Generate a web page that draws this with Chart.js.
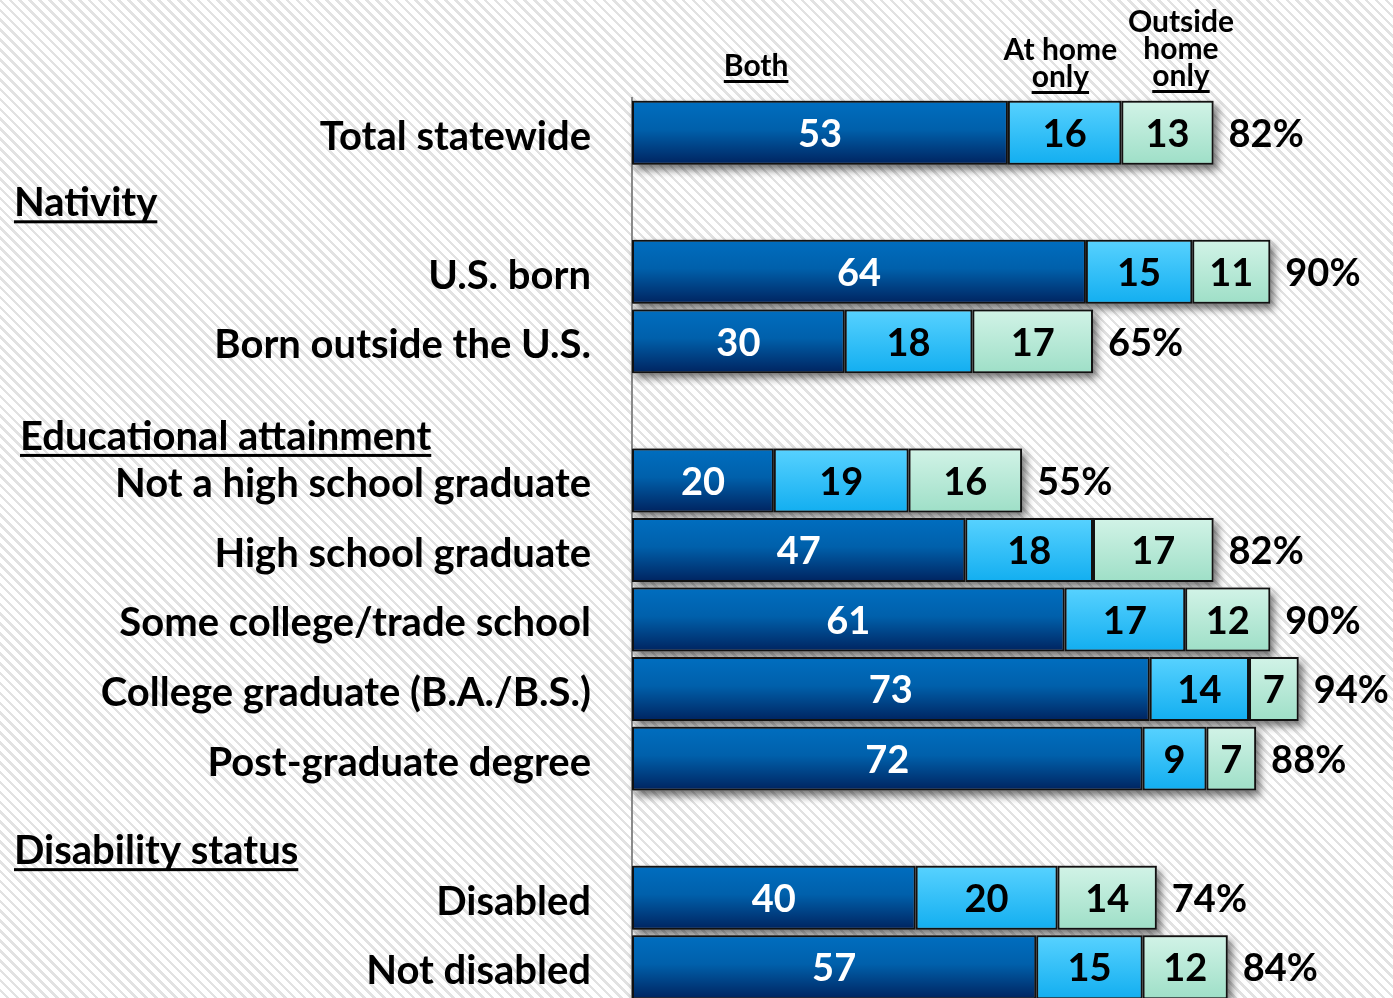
<!DOCTYPE html>
<html>
<head>
<meta charset="utf-8">
<script src="https://cdn.jsdelivr.net/npm/chart.js@4.4.0/dist/chart.umd.min.js"></script>
<style>
  html, body { margin: 0; padding: 0; overflow: hidden; }
  body {
    width: 1393px; height: 998px;
    background: repeating-linear-gradient(45deg, #ffffff 0px, #ffffff 4.4px, #e2e2e2 4.4px, #e2e2e2 7px);
  }
  canvas { display: block; }
</style>
</head>
<body>
<canvas id="chart" width="1393" height="1067"></canvas>
<script>
// rows, blank strings are the gaps where group headings sit
const categories = ['Total statewide', '', 'U.S. born', 'Born outside the U.S.', '',
  'Not a high school graduate', 'High school graduate', 'Some college/trade school',
  'College graduate (B.A./B.S.)', 'Post-graduate degree', '', 'Disabled', 'Not disabled'];

const both =        [53, null, 64, 30, null, 20, 47, 61, 73, 72, null, 40, 57];
const atHomeOnly =  [16, null, 15, 18, null, 19, 18, 17, 14,  9, null, 20, 15];
const outsideOnly = [13, null, 11, 17, null, 16, 17, 12,  7,  7, null, 14, 12];
const totals =      [82, null, 90, 65, null, 55, 82, 90, 94, 88, null, 74, 84];

const groupHeaders = ['Nativity', 'Educational attainment', 'Disability status'];
const seriesHeaders = [['Both'], ['At home', 'only'], ['Outside', 'home', 'only']];

const FONT = 'Lato, "Open Sans", sans-serif';
const BAR_PCT = 0.92;

function grad(stops) {
  return function (c) {
    const chart = c.chart;
    const y = chart.scales.y;
    if (!y || !chart.chartArea) return stops[stops.length - 1][1];
    const yc = y.getPixelForValue(c.dataIndex);
    const h = Math.abs(y.getPixelForValue(1) - y.getPixelForValue(0)) * BAR_PCT / 2;
    const g = chart.ctx.createLinearGradient(0, yc - h, 0, yc + h);
    stops.forEach(s => g.addColorStop(s[0], s[1]));
    return g;
  };
}

const shadowPlugin = {
  id: 'barShadow',
  beforeDatasetsDraw(chart) {
    const ctx = chart.ctx, x = chart.scales.x;
    const meta = chart.getDatasetMeta(0);
    ctx.save();
    ctx.shadowColor = 'rgba(0,0,0,0.55)';
    ctx.shadowBlur = 8;
    ctx.shadowOffsetX = 4;
    ctx.shadowOffsetY = 5;
    ctx.fillStyle = '#888';
    totals.forEach((t, i) => {
      if (t == null) return;
      const el = meta.data[i];
      const x0 = x.getPixelForValue(0), x1 = x.getPixelForValue(t);
      ctx.fillRect(x0, el.y - el.height / 2, x1 - x0, el.height);
    });
    ctx.restore();
  }
};

function underlined(ctx, text, x, y, align) {
  ctx.textAlign = align;
  ctx.fillText(text, x, y);
  const w = ctx.measureText(text).width;
  const left = align === 'center' ? x - w / 2 : x;
  ctx.fillRect(left, y + 4, w, 3);
}

const labelPlugin = {
  id: 'labels',
  afterDatasetsDraw(chart) {
    const ctx = chart.ctx, x = chart.scales.x, y = chart.scales.y;
    ctx.save();
    ctx.textBaseline = 'middle';
    ctx.font = 'bold 38px ' + FONT;
    chart.data.datasets.forEach((ds, di) => {
      const meta = chart.getDatasetMeta(di);
      meta.data.forEach((el, i) => {
        const v = ds.data[i];
        if (v == null) return;
        ctx.fillStyle = di === 0 ? '#ffffff' : '#000000';
        ctx.textAlign = 'center';
        ctx.fillText(String(v), (el.x + el.base) / 2, el.y + 2);
      });
    });
    const meta0 = chart.getDatasetMeta(0);
    ctx.fillStyle = '#000';
    totals.forEach((t, i) => {
      if (t == null) return;
      ctx.textAlign = 'left';
      ctx.fillText(t + '%', x.getPixelForValue(t) + 15, meta0.data[i].y + 2);
    });

    // group headings
    ctx.font = 'bold 40px ' + FONT;
    ctx.textBaseline = 'alphabetic';
    underlined(ctx, groupHeaders[0], 14, y.getPixelForValue(1) + 14, 'left');
    underlined(ctx, groupHeaders[1], 20, y.getPixelForValue(4) + 39, 'left');
    underlined(ctx, groupHeaders[2], 14, y.getPixelForValue(10) + 36, 'left');

    // series headings above the first bar
    ctx.font = 'bold 30px ' + FONT;
    const spots = [[17.5, 76], [60.4, 60], [77.4, 32]];
    seriesHeaders.forEach((lines, si) => {
      const cx = x.getPixelForValue(spots[si][0]);
      lines.forEach((ln, li) => {
        const by = spots[si][1] + li * 27;
        if (li === lines.length - 1) underlined(ctx, ln, cx, by, 'center');
        else { ctx.textAlign = 'center'; ctx.fillText(ln, cx, by); }
      });
    });
    ctx.restore();
  }
};

new Chart(document.getElementById('chart'), {
  type: 'bar',
  data: {
    labels: categories,
    datasets: [
      { label: 'Both', data: both,
        backgroundColor: grad([[0, '#006ec0'], [0.45, '#0060ab'], [1, '#00235f']]) },
      { label: 'At home only', data: atHomeOnly,
        backgroundColor: grad([[0, '#58d2ff'], [1, '#12aef0']]) },
      { label: 'Outside home only', data: outsideOnly,
        backgroundColor: grad([[0, '#d2f3e7'], [1, '#9edfc7']]) }
    ]
  },
  options: {
    indexAxis: 'y',
    responsive: false,
    animation: false,
    devicePixelRatio: 1,
    layout: { padding: { top: 98, bottom: 1, left: 0, right: 0 } },
    datasets: {
      bar: { borderColor: '#111', borderWidth: 2, borderSkipped: false,
             barPercentage: BAR_PCT, categoryPercentage: 1 }
    },
    plugins: { legend: { display: false }, tooltip: { enabled: false } },
    scales: {
      x: { stacked: true, display: false, min: 0, max: 107.3 },
      y: {
        stacked: true,
        grid: { display: false, drawTicks: false },
        border: { display: true, color: '#8a8a8a', width: 2 },
        ticks: { color: '#000', padding: 41, labelOffset: 4,
                 font: { family: FONT, size: 40, weight: 'bold' } },
        afterFit(scale) { scale.width = 632; }
      }
    }
  },
  plugins: [shadowPlugin, labelPlugin]
});
</script>
</body>
</html>
